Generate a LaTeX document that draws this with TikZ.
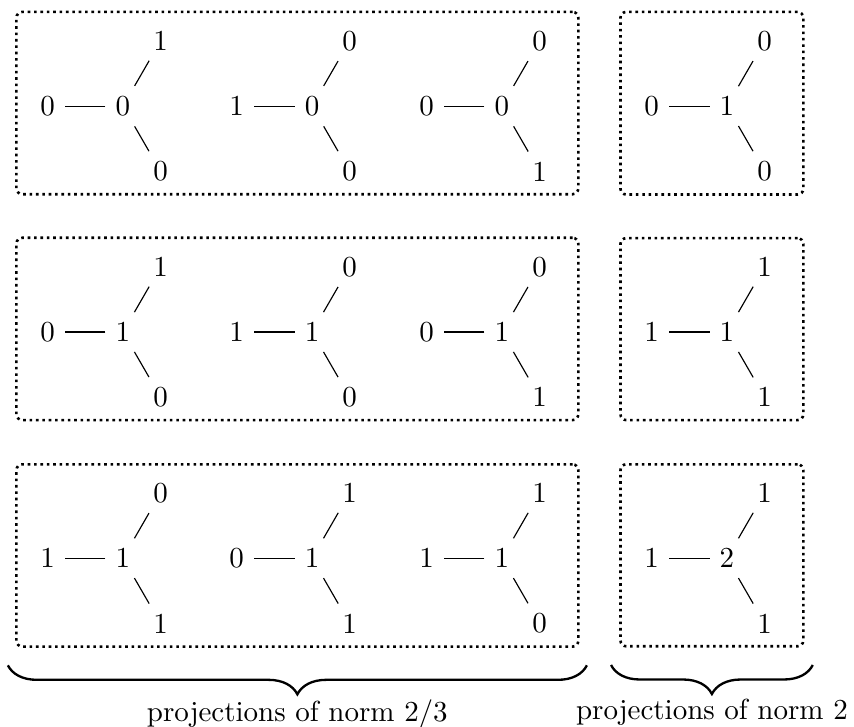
\documentclass[tikz,border=0pt]{standalone}
\usetikzlibrary{fit,decorations.pathreplacing}
\begin{document}
\begin{tikzpicture}[
  level distance=26pt,
  sibling distance=0pt,
  edge from parent/.style={draw},
  projbox/.style={draw, line width=0.9pt, dash pattern=on 0.9pt off 1.3pt, rounded corners=2pt,
    inner xsep=6pt, inner ysep=2pt, xshift=1.3pt, yshift=1pt},
  normbrace/.style={decorate, thick, decoration={brace, amplitude=10pt, mirror}}
]
\useasboundingbox (-42.4pt,36.6pt) rectangle (252.1pt,-213.8pt);

% first row
\node (C11) at (0pt,0pt) {0}
  child[grow=180] { node (L11) {0} }
  child[grow=60] { node (T11) {1} }
  child[grow=-60] { node (B11) {0} };
\node (C12) at (65.2pt,0pt) {0}
  child[grow=180] { node (L12) {1} }
  child[grow=60] { node (T12) {0} }
  child[grow=-60] { node (B12) {0} };
\node (C13) at (130.7pt,0pt) {0}
  child[grow=180] { node (L13) {0} }
  child[grow=60] { node (T13) {0} }
  child[grow=-60] { node (B13) {1} };
\node (C14) at (208.3pt,0pt) {1}
  child[grow=180] { node (L14) {0} }
  child[grow=60] { node (T14) {0} }
  child[grow=-60] { node (B14) {0} };

% second row
\node (C21) at (0pt,-77.9pt) {1}
  child[grow=180] { node (L21) {0} }
  child[grow=60] { node (T21) {1} }
  child[grow=-60] { node (B21) {0} };
\node (C22) at (65.2pt,-77.9pt) {1}
  child[grow=180] { node (L22) {1} }
  child[grow=60] { node (T22) {0} }
  child[grow=-60] { node (B22) {0} };
\node (C23) at (130.7pt,-77.9pt) {1}
  child[grow=180] { node (L23) {0} }
  child[grow=60] { node (T23) {0} }
  child[grow=-60] { node (B23) {1} };
\node (C24) at (208.3pt,-77.9pt) {1}
  child[grow=180] { node (L24) {1} }
  child[grow=60] { node (T24) {1} }
  child[grow=-60] { node (B24) {1} };

% third row
\node (C31) at (0pt,-155.9pt) {1}
  child[grow=180] { node (L31) {1} }
  child[grow=60] { node (T31) {0} }
  child[grow=-60] { node (B31) {1} };
\node (C32) at (65.2pt,-155.9pt) {1}
  child[grow=180] { node (L32) {0} }
  child[grow=60] { node (T32) {1} }
  child[grow=-60] { node (B32) {1} };
\node (C33) at (130.7pt,-155.9pt) {1}
  child[grow=180] { node (L33) {1} }
  child[grow=60] { node (T33) {1} }
  child[grow=-60] { node (B33) {0} };
\node (C34) at (208.3pt,-155.9pt) {2}
  child[grow=180] { node (L34) {1} }
  child[grow=60] { node (T34) {1} }
  child[grow=-60] { node (B34) {1} };

% boxes
\node[projbox, fit=(L11)(T13)(B13)] (P1) {};
\node[projbox, fit=(L14)(T14)(B14)] (Q1) {};
\node[projbox, fit=(L21)(T23)(B23)] (P2) {};
\node[projbox, fit=(L24)(T24)(B24)] (Q2) {};
\node[projbox, fit=(L31)(T33)(B33)] (P3) {};
\node[projbox, fit=(L34)(T34)(B34)] (Q3) {};

% braces
\draw[normbrace] ([shift={(-2.5pt,-6pt)}]P3.south west) -- ([shift={(2.5pt,-6pt)}]P3.south east)
  node[midway, below=8pt] {projections of norm 2/3};
\draw[normbrace] ([shift={(-2.8pt,-6pt)}]Q3.south west) -- ([shift={(2.8pt,-6pt)}]Q3.south east)
  node[midway, below=8pt] {projections of norm 2};
\end{tikzpicture}
\end{document}
